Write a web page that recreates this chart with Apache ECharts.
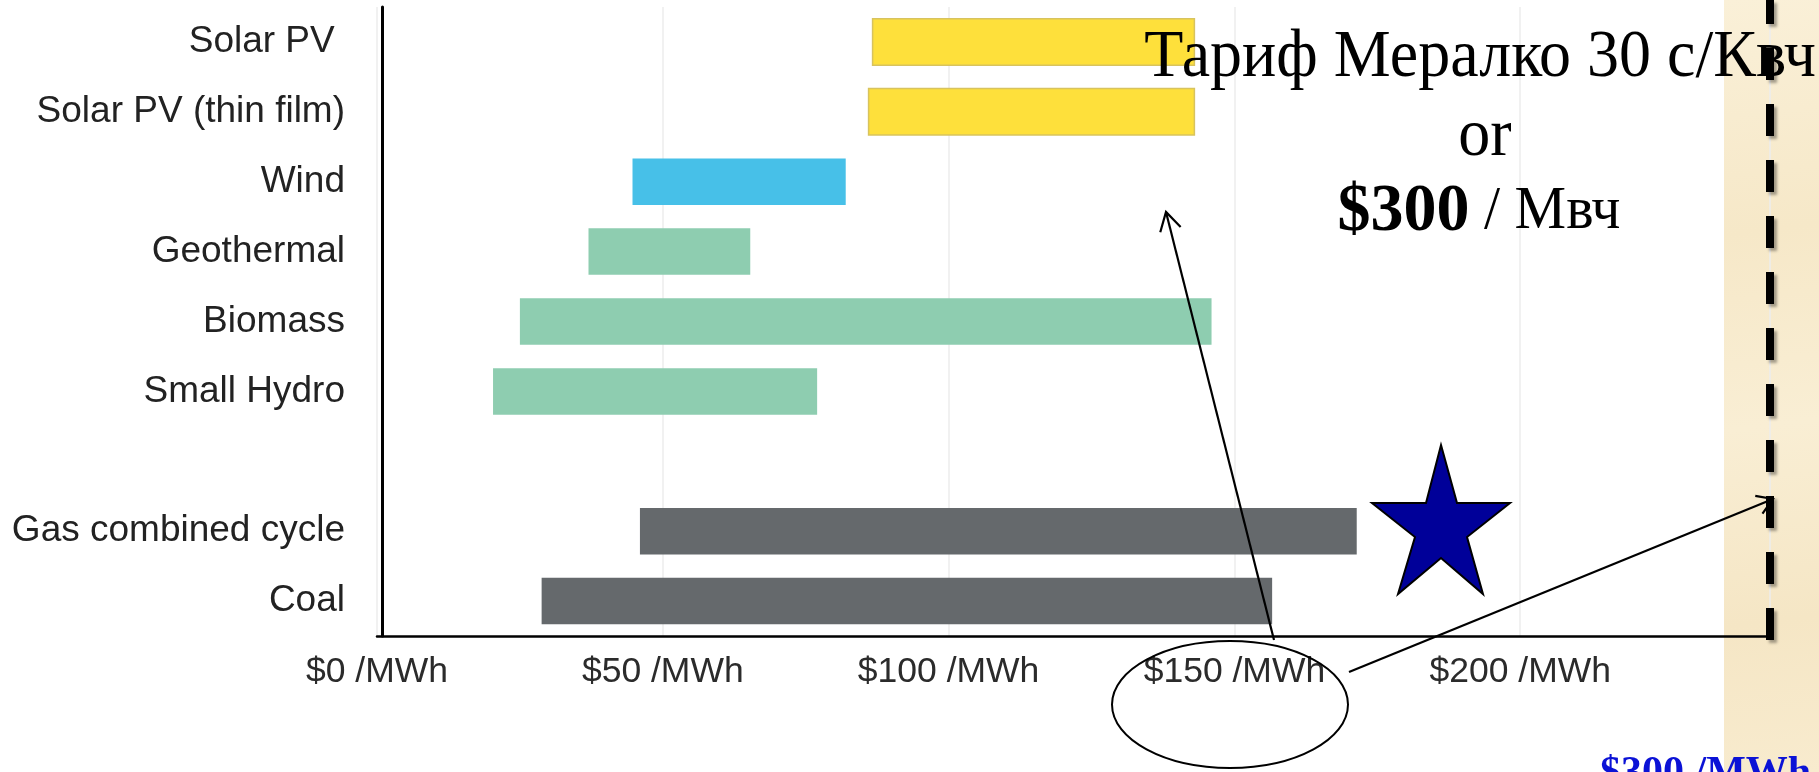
<!DOCTYPE html>
<html><head><meta charset="utf-8">
<script src="https://cdn.jsdelivr.net/npm/echarts@6/dist/echarts.min.js"></script>
<style>html,body{margin:0;padding:0;background:#fff}#c{width:1819px;height:772px}</style>
</head><body><div id="c"></div>
<script>
// ---- data ----
const categories = ['Solar PV ', 'Solar PV (thin film)', 'Wind', 'Geothermal', 'Biomass', 'Small Hydro', '', 'Gas combined cycle', 'Coal'];
const lowValues  = [86.7, 86.0, 44.7, 37.0, 25.0, 20.3, null, 46.0, 28.8];
const highValues = [143.0, 143.0, 82.0, 65.3, 146.0, 77.0, null, 171.4, 156.6];
const barColors  = ['#FEE03B', '#FEE03B', '#47C0E8', '#8ECDB0', '#8ECDB0', '#8ECDB0', null, '#65696C', '#65696C'];
const barBorders = ['#D8C35E', '#D8C35E', null, null, null, null, null, null, null];
const xTickStep = 50;
const xMax = 243.7;
const tickUnit = ' /MWh';
const annotLine1 = 'Тариф Мералко 30 с/Квч';
const annotLine2 = 'or';
const annotLine3a = '$300';
const annotLine3b = ' / Мвч';
const bottomNote = '$300 /MWh';

const seriesData = [];
categories.forEach((c, i) => {
  if (lowValues[i] != null) seriesData.push([i, lowValues[i], highValues[i]]);
});

function arrowHead(tip, from, len, angDeg) {
  const dx = from[0] - tip[0], dy = from[1] - tip[1];
  const d = Math.hypot(dx, dy), ux = dx / d, uy = dy / d;
  const a = angDeg * Math.PI / 180;
  const r = (s) => [tip[0] + len * (ux * Math.cos(s) - uy * Math.sin(s)), tip[1] + len * (ux * Math.sin(s) + uy * Math.cos(s))];
  return [r(a), tip, r(-a)];
}

const chart = echarts.init(document.getElementById('c'), null, {renderer: 'canvas'});

const a1from = [1274, 640], a1tip = [1166, 212];
const a2from = [1349, 672], a2tip = [1773, 499];
const starPts = [[1441,445],[1457,503],[1510,503],[1467,537],[1483,594],[1441,558],[1398,594],[1415,537],[1372,503],[1426,503]];
const serif = '"Liberation Serif", "Times New Roman", serif';

chart.setOption({
  animation: false,
  backgroundColor: '#ffffff',
  grid: {left: 377, right: 49, top: 7, bottom: 136, containLabel: false},
  xAxis: {
    type: 'value', min: 0, max: xMax, interval: xTickStep,
    axisLine: {show: true, lineStyle: {color: '#000', width: 2.5}},
    axisTick: {show: false},
    splitLine: {show: true, lineStyle: {color: '#ededed', width: 1.5}},
    axisLabel: {
      showMaxLabel: false, margin: 18,
      fontFamily: 'Liberation Sans, Arial, sans-serif', fontSize: 35.5, color: '#2b2b2b',
      formatter: v => (v % xTickStep === 0 ? '$' + v + tickUnit : '')
    }
  },
  yAxis: {
    type: 'category', data: categories, inverse: true, offset: -5,
    axisLine: {show: true, lineStyle: {color: '#000', width: 3}},
    axisTick: {show: false},
    splitLine: {show: false},
    axisLabel: {margin: 37, fontFamily: 'Liberation Sans, Arial, sans-serif', fontSize: 37, color: '#222'}
  },
  series: [{
    type: 'custom',
    encode: {x: [1, 2], y: 0},
    data: seriesData,
    renderItem: function (params, api) {
      const cat = api.value(0), lo = api.value(1), hi = api.value(2);
      const p1 = api.coord([lo, cat]), p2 = api.coord([hi, cat]);
      const h = api.size([0, 1])[1] * 0.665;
      const style = {fill: barColors[cat]};
      if (barBorders[cat]) { style.stroke = barBorders[cat]; style.lineWidth = 1.5; }
      return {type: 'rect', shape: {x: p1[0], y: p1[1] - h / 2, width: p2[0] - p1[0], height: h}, style: style};
    }
  }],
  graphic: [
    {type: 'rect', z: 0, silent: true, shape: {x: 1724, y: 0, width: 95, height: 772},
      style: {fill: new echarts.graphic.LinearGradient(0, 0, 1, 1, [
        {offset: 0, color: '#FAF0D8'}, {offset: 0.3, color: '#F6E8C8'}, {offset: 0.55, color: '#F9EED4'},
        {offset: 0.8, color: '#F5E6C5'}, {offset: 1, color: '#F8EBCE'}])}},
    {type: 'text', z: 100, silent: true, x: 1480, y: 58, scaleY: 1.06,
      style: {text: annotLine1, font: '64px ' + serif, fill: '#000', align: 'center', verticalAlign: 'middle'}},
    {type: 'text', z: 100, silent: true, x: 1485, y: 137, scaleY: 1.06,
      style: {text: annotLine2, font: '64px ' + serif, fill: '#000', align: 'center', verticalAlign: 'middle'}},
    {type: 'text', z: 100, silent: true, x: 1479, y: 212, scaleY: 1.04,
      style: {text: '{b|' + annotLine3a + '}{n|' + annotLine3b + '}', align: 'center', verticalAlign: 'middle',
        rich: {
          b: {fontFamily: serif, fontWeight: 'bold', fontSize: 66, color: '#000'},
          n: {fontFamily: serif, fontSize: 58, color: '#000'}
        }}},
    {type: 'line', z: 101, silent: true, shape: {x1: 1770, y1: 640, x2: 1770, y2: 0},
      style: {stroke: '#000', lineWidth: 8, lineDash: [32, 24], shadowColor: 'rgba(0,0,0,0.35)', shadowBlur: 3, shadowOffsetX: 3, shadowOffsetY: 3}},
    {type: 'line', z: 102, silent: true, shape: {x1: a1from[0], y1: a1from[1], x2: a1tip[0], y2: a1tip[1]}, style: {stroke: '#000', lineWidth: 2.2}},
    {type: 'polyline', z: 102, silent: true, shape: {points: arrowHead(a1tip, a1from, 21, 30)}, style: {stroke: '#000', lineWidth: 2.2, fill: null}},
    {type: 'line', z: 102, silent: true, shape: {x1: a2from[0], y1: a2from[1], x2: a2tip[0], y2: a2tip[1]}, style: {stroke: '#000', lineWidth: 2.2}},
    {type: 'polyline', z: 102, silent: true, shape: {points: arrowHead(a2tip, a2from, 18, 32)}, style: {stroke: '#000', lineWidth: 2.2, fill: null}},
    {type: 'ellipse', z: 102, silent: true, shape: {cx: 1230, cy: 704.5, rx: 118, ry: 63.5}, style: {stroke: '#000', lineWidth: 2, fill: null}},
    {type: 'polygon', z: 102, silent: true, shape: {points: starPts}, style: {fill: '#000099', stroke: '#000', lineWidth: 2}},
    {type: 'text', z: 102, silent: true, x: 1600, y: 753,
      style: {text: bottomNote, font: 'bold 42px ' + serif, fill: '#0B12D6', align: 'left', verticalAlign: 'top'}}
  ]
});
</script></body></html>
